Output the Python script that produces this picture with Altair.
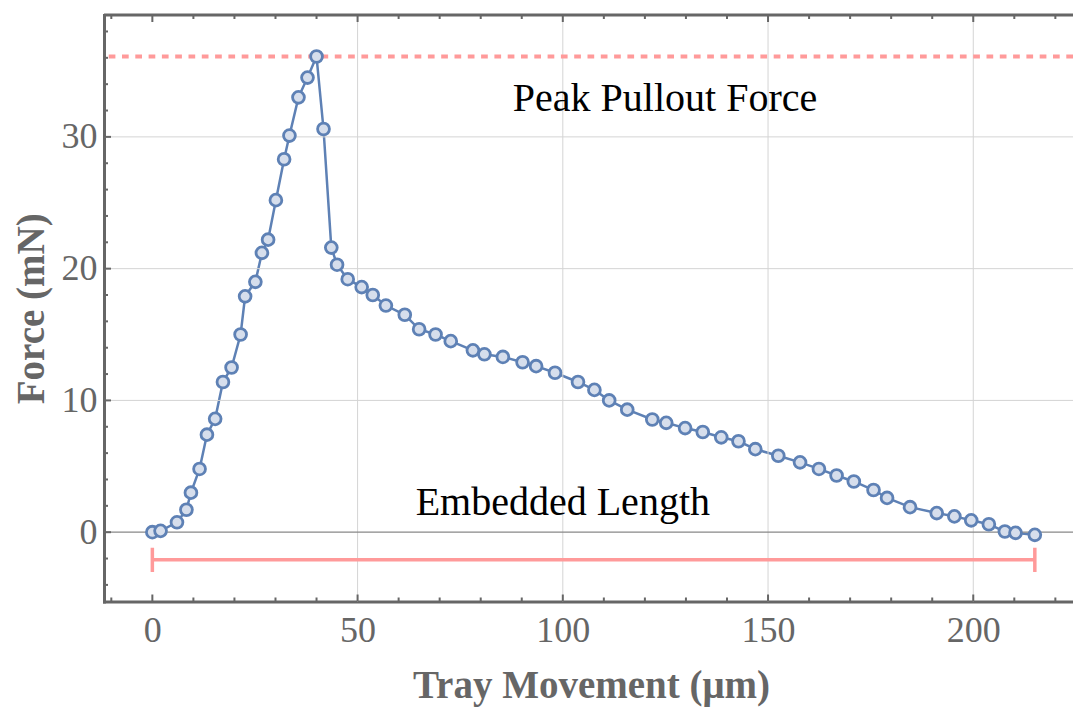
import altair as alt
import pandas as pd

# Data
tray_um = [0, 2, 6, 8.3, 9.4, 11.5, 13.3, 15.3, 17.2, 19.3, 21.5, 22.6, 25.1, 26.7, 28.2,
           30.1, 32.1, 33.4, 35.6, 37.8, 40.0, 41.7, 43.6, 45.0, 47.6, 51.0, 53.7, 56.9,
           61.5, 65.0, 69.0, 72.7, 78.1, 80.9, 85.4, 90.2, 93.5, 98.1, 103.7, 107.7, 111.3,
           115.7, 121.8, 125.2, 129.8, 134.1, 138.6, 142.8, 146.9, 152.5, 157.8, 162.4,
           166.7, 170.9, 175.7, 179.0, 184.6, 191.1, 195.4, 199.5, 203.8, 207.7, 210.3, 215.0]
force_mN = [0, 0.1, 0.75, 1.7, 3.0, 4.8, 7.4, 8.6, 11.4, 12.5, 15.0, 17.9, 19.0, 21.2, 22.2,
            25.2, 28.3, 30.1, 33.0, 34.5, 36.1, 30.6, 21.6, 20.3, 19.2, 18.6, 18.0, 17.2,
            16.5, 15.4, 15.0, 14.5, 13.8, 13.5, 13.3, 12.9, 12.6, 12.1, 11.4, 10.8, 10.0,
            9.3, 8.55, 8.3, 7.9, 7.6, 7.2, 6.9, 6.3, 5.8, 5.3, 4.8, 4.3, 3.85, 3.2, 2.6,
            1.9, 1.45, 1.2, 0.9, 0.6, 0.05, -0.05, -0.2]

x_labels = [0, 50, 100, 150, 200]
y_labels = [0, 10, 20, 30]
x_grid = [50, 100, 150, 200]
y_grid = [10, 20, 30]
x_minor = [-10, 10, 20, 30, 40, 60, 70, 80, 90, 110, 120, 130, 140, 160, 170, 180, 190, 210, 220]
y_minor = [-4, -2, 2, 4, 6, 8, 12, 14, 16, 18, 22, 24, 26, 28, 32, 34, 36, 38]
embed_bar_y = -2.1
peak_label = "Peak Pullout Force"
embed_label = "Embedded Length"

W, H = 969, 586.5
X_DOM = [-11.78, 224.3]
Y_DOM = [-5.26, 39.25]
xs = alt.Scale(domain=X_DOM, nice=False, zero=False)
ys = alt.Scale(domain=Y_DOM, nice=False, zero=False)

BLUE = "#5E81B5"
FILL = "#D6DEEC"
PINK = "#FF9A9A"
FRAME = "#666666"
FONT = "Liberation Serif"

df = pd.DataFrame({"x": tray_um, "y": force_mN, "i": range(len(tray_um))})
peak = max(force_mN)


def xenc(f="v"):
    return alt.X(f"{f}:Q", scale=xs)


def yenc(f="v"):
    return alt.Y(f"{f}:Q", scale=ys)


line = alt.Chart(df).mark_line(color=BLUE, strokeWidth=2.5).encode(
    x=alt.X("x:Q", scale=xs, title="Tray Movement (μm)",
            axis=alt.Axis(values=x_labels, labelPadding=12, titleX=487, titleY=95.5,
                          titleAlign="center", titleBaseline="alphabetic")),
    y=alt.Y("y:Q", scale=ys, title="Force (mN)",
            axis=alt.Axis(values=y_labels, labelPadding=7, titleX=-61, titleY=H / 2,
                          titleAlign="center", titleBaseline="alphabetic", titleAngle=270)),
    order="i:Q")

xg = alt.Chart(pd.DataFrame({"v": x_grid})).mark_rule(color="#d4d4d4", strokeWidth=1).encode(x=xenc())
yg = alt.Chart(pd.DataFrame({"v": y_grid})).mark_rule(color="#d4d4d4", strokeWidth=1).encode(y=yenc())
zero = alt.Chart(pd.DataFrame({"v": [0]})).mark_rule(color="#888888", strokeWidth=1.3).encode(y=yenc())

peak_line = alt.Chart(pd.DataFrame({"v": [peak]})).mark_rule(
    color=PINK, strokeWidth=4, strokeDash=[6.7, 6.6]).encode(y=yenc())

bar = alt.Chart(pd.DataFrame({"a": [tray_um[0]], "b": [tray_um[-1]], "v": [embed_bar_y]})).mark_rule(
    color=PINK, strokeWidth=3.5).encode(x=xenc("a"), x2="b:Q", y=yenc())
caps = alt.Chart(pd.DataFrame({"v": [tray_um[0], tray_um[-1]],
                               "lo": [embed_bar_y - 0.92] * 2, "hi": [embed_bar_y + 0.92] * 2})).mark_rule(
    color=PINK, strokeWidth=3.5).encode(x=xenc(), y=yenc("lo"), y2="hi:Q")

pts = alt.Chart(df).mark_point(shape="circle", filled=True, fill=FILL, stroke=BLUE,
                               strokeWidth=2.8, size=140, opacity=1).encode(x=xenc("x"), y=yenc("y"))

txt1 = alt.Chart(pd.DataFrame({"t": [peak_label], "x": [124.9], "y": [32.9]})).mark_text(
    font=FONT, fontSize=40, color="black", baseline="middle", align="center").encode(
    x=xenc("x"), y=yenc("y"), text="t:N")
txt2 = alt.Chart(pd.DataFrame({"t": [embed_label], "x": [100.0], "y": [2.2]})).mark_text(
    font=FONT, fontSize=40, color="black", baseline="middle", align="center").encode(
    x=xenc("x"), y=yenc("y"), text="t:N")

# frame top line and inward ticks
top = alt.Chart(pd.DataFrame({"v": [0]})).mark_rule(color=FRAME, strokeWidth=3).encode(
    x=alt.value(0), x2=alt.value(W), y=alt.value(0))


def xticks(vals, ln):
    d = pd.DataFrame({"v": vals})
    b = alt.Chart(d).mark_rule(color=FRAME, strokeWidth=2).encode(
        x=xenc(), y=alt.value(H), y2=alt.value(H - ln))
    t = alt.Chart(d).mark_rule(color=FRAME, strokeWidth=2).encode(
        x=xenc(), y=alt.value(0), y2=alt.value(ln))
    return [b, t]


def yticks(vals, ln):
    d = pd.DataFrame({"v": vals})
    return [alt.Chart(d).mark_rule(color=FRAME, strokeWidth=2).encode(
        y=yenc(), x=alt.value(0), x2=alt.value(ln))]


layers = [line, xg, yg, zero, peak_line, bar, caps, pts, txt1, txt2, top]
layers += xticks(x_labels, 7) + xticks(x_minor, 4) + yticks(y_labels, 7) + yticks(y_minor, 4)

chart = alt.layer(*layers).properties(
    width=W, height=H,
    autosize=alt.AutoSizeParams(type="none"),
    padding={"left": 104, "top": 15, "right": 0, "bottom": 105.5},
).configure_view(strokeWidth=0).configure_axis(
    grid=False, ticks=False, domainColor=FRAME, domainWidth=3, domainCap="square",
    labelFont=FONT, labelFontSize=36, labelColor="#666666",
    titleFont=FONT, titleFontSize=39, titleFontWeight="bold", titleColor="#666666",
)

chart.save("out.html", embed_options={"renderer": "svg", "actions": False})
